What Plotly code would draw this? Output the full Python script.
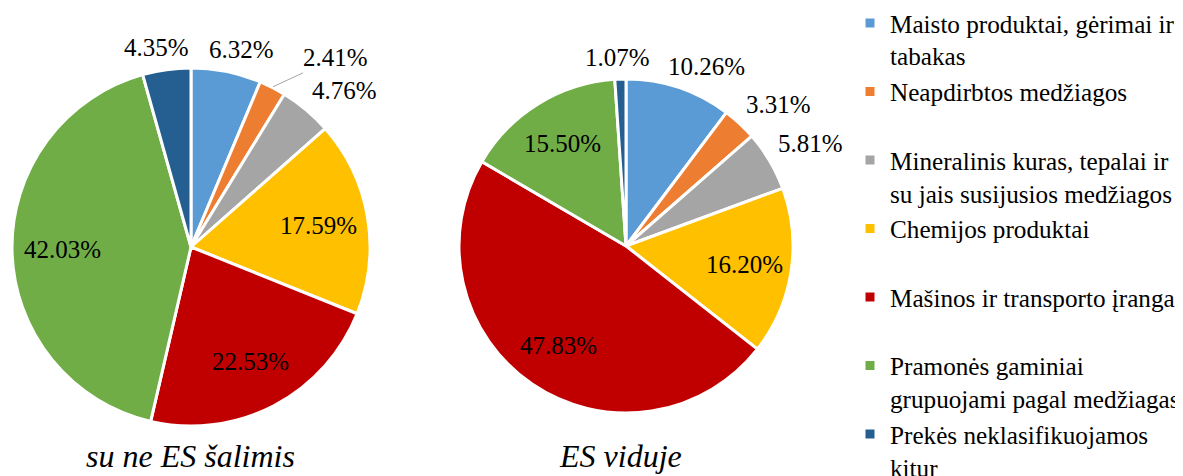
import math
import plotly.graph_objects as go

categories = [
    "Maisto produktai, gėrimai ir<br>tabakas",
    "Neapdirbtos medžiagos<br>\u00a0",
    "Mineralinis kuras, tepalai ir<br>su jais susijusios medžiagos",
    "Chemijos produktai<br>\u00a0",
    "Mašinos ir transporto įranga<br>\u00a0",
    "Pramonės gaminiai<br>grupuojami pagal medžiagas",
    "Prekės neklasifikuojamos<br>kitur",
]
colors = ["#5B9BD5", "#ED7D31", "#A5A5A5", "#FFC000", "#C00000", "#70AD47", "#255E91"]

non_eu_values = [6.32, 2.41, 4.76, 17.59, 22.53, 42.03, 4.35]
eu_values = [10.26, 3.31, 5.81, 16.20, 47.83, 15.50, 1.07]

non_eu_pos = ["outside", "outside", "outside", "inside", "inside", "inside", "outside"]
eu_pos = ["outside", "outside", "outside", "inside", "inside", "inside", "outside"]

subtitles = ["su ne ES šalimis", "ES viduje"]

# page body has an 8px margin, so the figure starts at (8, 8) in the window
OFF = 8
W, H = 1183 - OFF, 476 - OFF
FONT = "Liberation Serif, Times New Roman, serif"
LABEL_SIZE = 25


def px(x):
    return (x - OFF) / W


def py(y):
    return (H - (y - OFF)) / H


def dom(cx, cy, r):
    return dict(x=[px(cx - r), px(cx + r)], y=[py(cy + r), py(cy - r)])


CHAR_W = {".": 0.25, "%": 0.833}


def text_width(t):
    return sum(CHAR_W.get(ch, 0.5) for ch in t) * LABEL_SIZE


def f(u):
    return math.copysign(min(1.0, 2 * abs(u)), u)


def label_annotations(vals, pos, cx, cy, r):
    """Excel-like data labels: inside ones at ~0.72 r, outside ones just past the rim."""
    total = sum(vals)
    cum = 0.0
    placed = []
    anns = []
    hh = 12
    hh_col = 11
    sep = 4
    gap = 10
    leader_extra = 25
    leader_out = 10
    for v, p in zip(vals, pos):
        theta = 2 * math.pi * (cum + v / 2) / total
        cum += v
        s, c = math.sin(theta), math.cos(theta)
        txt = f"{v:.2f}%"
        hw = text_width(txt) / 2
        if p == "inside":
            d = 0.72 * r
            anns.append(dict(x=px(cx + d * s), y=py(cy - d * c), text=txt, showarrow=False,
                             xanchor="center", yanchor="middle"))
            continue
        lx = cx + (r + gap) * s + f(s) * hw
        ly = cy - (r + gap) * c - f(c) * hh
        direction = 1 if s >= 0 else -1

        def overlaps(x, y):
            for (bx0, bx1, by0, by1) in placed:
                if x - hw < bx1 + sep and x + hw > bx0 - sep and y - hh_col < by1 and y + hh_col > by0:
                    return True
            return False

        shift = 0
        while overlaps(lx + shift * direction, ly) and shift < 200:
            shift += 1
        if shift > 0:
            shift += leader_extra
            ly -= leader_out * c
        lx += shift * direction
        placed.append((lx - hw, lx + hw, ly - hh_col, ly + hh_col))
        if shift > 0:
            ex, ey = cx + (r + 1) * s, cy - (r + 1) * c
            anns.append(dict(x=px(ex), y=py(ey), text=txt, showarrow=True,
                             arrowhead=0, arrowwidth=1, arrowcolor="#A5A5A5",
                             ax=lx - ex, ay=ly - ey, standoff=0))
        else:
            anns.append(dict(x=px(lx), y=py(ly), text=txt, showarrow=False,
                             xanchor="center", yanchor="middle"))
    return anns


pies = [
    (non_eu_values, non_eu_pos, (191, 247, 179)),
    (eu_values, eu_pos, (626, 246, 167)),
]

fig = go.Figure()
for vals, pos, (cx, cy, r) in pies:
    fig.add_trace(go.Pie(
        labels=categories,
        values=vals,
        sort=False,
        direction="clockwise",
        rotation=0,
        domain=dom(cx, cy, r),
        marker=dict(colors=colors, line=dict(color="white", width=3)),
        textinfo="none",
        hoverinfo="label+value",
    ))
    for a in label_annotations(vals, pos, cx, cy, r):
        fig.add_annotation(xref="paper", yref="paper",
                           font=dict(family=FONT, size=LABEL_SIZE, color="black"), **a)

for label, cx in zip(subtitles, [190, 620]):
    fig.add_annotation(x=px(cx), y=py(456), xref="paper", yref="paper",
                       xanchor="center", yanchor="middle",
                       text="<i>" + label + "</i>", showarrow=False,
                       font=dict(family=FONT, size=32, color="black"))

fig.update_layout(
    width=W, height=H,
    margin=dict(l=0, r=0, t=0, b=0, autoexpand=False),
    paper_bgcolor="white",
    plot_bgcolor="white",
    showlegend=True,
    legend=dict(
        x=px(850), y=py(0), xanchor="left", yanchor="top",
        font=dict(family=FONT, size=25.2, color="black"),
        valign="top",
        traceorder="normal",
        maxheight=700,
        bgcolor="rgba(0,0,0,0)",
    ),
)

fig.write_html("out.html")
